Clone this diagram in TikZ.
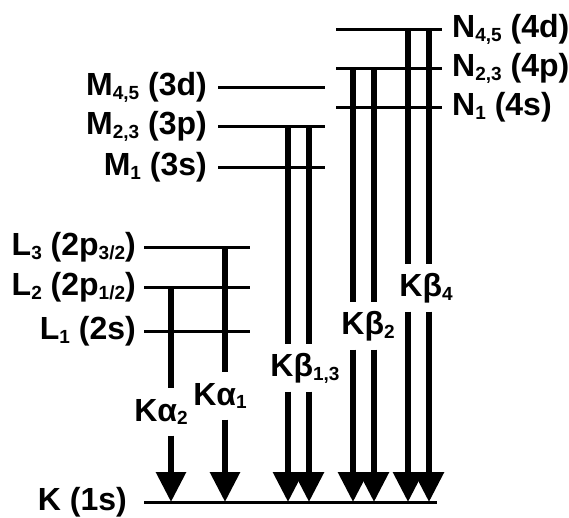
\documentclass[tikz,border=0pt]{standalone}
\usepackage{fontspec}
\setmainfont{Liberation Sans}
\usetikzlibrary{arrows.meta}
\newcommand{\lowsub}[1]{\raisebox{-0.12em}{\fontsize{19}{19}\selectfont #1}}

\begin{document}
\begin{tikzpicture}[x=1pt, y=-1pt,
  level/.style={line width=3pt},
  trans/.style={line width=6pt},
  transtip/.style={trans, -{Triangle[width=29pt, length=30pt]}},
  lbl/.style={font=\fontsize{32}{36}\selectfont\bfseries, inner sep=0pt},
  gap/.style={lbl, minimum height=47pt}]
\useasboundingbox (0,0) rectangle (569,517);
\coordinate (N45l) at (336,29); \coordinate (N45r) at (442,29);
\coordinate (N23l) at (336,68); \coordinate (N23r) at (442,68);
\coordinate (N1l) at (336,107); \coordinate (N1r) at (442,107);
\coordinate (M45l) at (218,87); \coordinate (M45r) at (325,87);
\coordinate (M23l) at (218,126); \coordinate (M23r) at (325,126);
\coordinate (M1l) at (218,167); \coordinate (M1r) at (325,167);
\coordinate (L3l) at (144,247); \coordinate (L3r) at (250,247);
\coordinate (L2l) at (144,287); \coordinate (L2r) at (250,287);
\coordinate (L1l) at (144,331); \coordinate (L1r) at (250,331);
\coordinate (Kl) at (144,502); \coordinate (Kr) at (437,502);
\draw[level] (N45l) -- (N45r); \draw[level] (N23l) -- (N23r); \draw[level] (N1l) -- (N1r);
\draw[level] (M45l) -- (M45r); \draw[level] (M23l) -- (M23r); \draw[level] (M1l) -- (M1r);
\draw[level] (L3l) -- (L3r); \draw[level] (L2l) -- (L2r); \draw[level] (L1l) -- (L1r);
\draw[level] (Kl) -- (Kr);
\node[lbl, anchor=west] (n45) at (452,29) {N\lowsub{4,5} (4d)};
\node[lbl, anchor=west] (n23) at (452,68) {N\lowsub{2,3} (4p)};
\node[lbl, anchor=west] (n1) at (452,107) {N\lowsub{1} (4s)};
\node[lbl, anchor=east] (m45) at (207,87) {M\lowsub{4,5} (3d)};
\node[lbl, anchor=east] (m23) at (207,126) {M\lowsub{2,3} (3p)};
\node[lbl, anchor=east] (m1) at (207,167) {M\lowsub{1} (3s)};
\node[lbl, anchor=east] (l3) at (136,247) {L\lowsub{3} (2p\lowsub{3/2})};
\node[lbl, anchor=east] (l2) at (136,287) {L\lowsub{2} (2p\lowsub{1/2})};
\node[lbl, anchor=east] (l1) at (136,331) {L\lowsub{1} (2s)};
\node[lbl, anchor=east] (k) at (127,502) {K (1s)};
\node[gap] (ka2) at (161,412) {Kα\lowsub{2}};
\node[gap] (ka1) at (220,396) {Kα\lowsub{1}};
\node[gap] (kb13) at (305,368) {Kβ\lowsub{1,3}};
\node[gap] (kb2) at (368,326) {Kβ\lowsub{2}};
\node[gap] (kb4) at (426,288) {Kβ\lowsub{4}};
\coordinate (ca2) at (171,0); \coordinate (ca1) at (225,0);
\coordinate (cb13a) at (288,0); \coordinate (cb13b) at (309,0);
\coordinate (cb2a) at (353,0); \coordinate (cb2b) at (374,0);
\coordinate (cb4a) at (408,0); \coordinate (cb4b) at (429,0);
\draw[trans] (ca2 |- L2l) -- (ca2 |- ka2.north); \draw[transtip] (ca2 |- ka2.south) -- (ca2 |- Kl);
\draw[trans] (ca1 |- L3l) -- (ca1 |- ka1.north); \draw[transtip] (ca1 |- ka1.south) -- (ca1 |- Kl);
\draw[trans] (cb13a |- M23l) -- (cb13a |- kb13.north); \draw[transtip] (cb13a |- kb13.south) -- (cb13a |- Kl);
\draw[trans] (cb13b |- M23l) -- (cb13b |- kb13.north); \draw[transtip] (cb13b |- kb13.south) -- (cb13b |- Kl);
\draw[trans] (cb2a |- N23l) -- (cb2a |- kb2.north); \draw[transtip] (cb2a |- kb2.south) -- (cb2a |- Kl);
\draw[trans] (cb2b |- N23l) -- (cb2b |- kb2.north); \draw[transtip] (cb2b |- kb2.south) -- (cb2b |- Kl);
\draw[trans] (cb4a |- N45l) -- (cb4a |- kb4.north); \draw[transtip] (cb4a |- kb4.south) -- (cb4a |- Kl);
\draw[trans] (cb4b |- N45l) -- (cb4b |- kb4.north); \draw[transtip] (cb4b |- kb4.south) -- (cb4b |- Kl);
\end{tikzpicture}
\end{document}
